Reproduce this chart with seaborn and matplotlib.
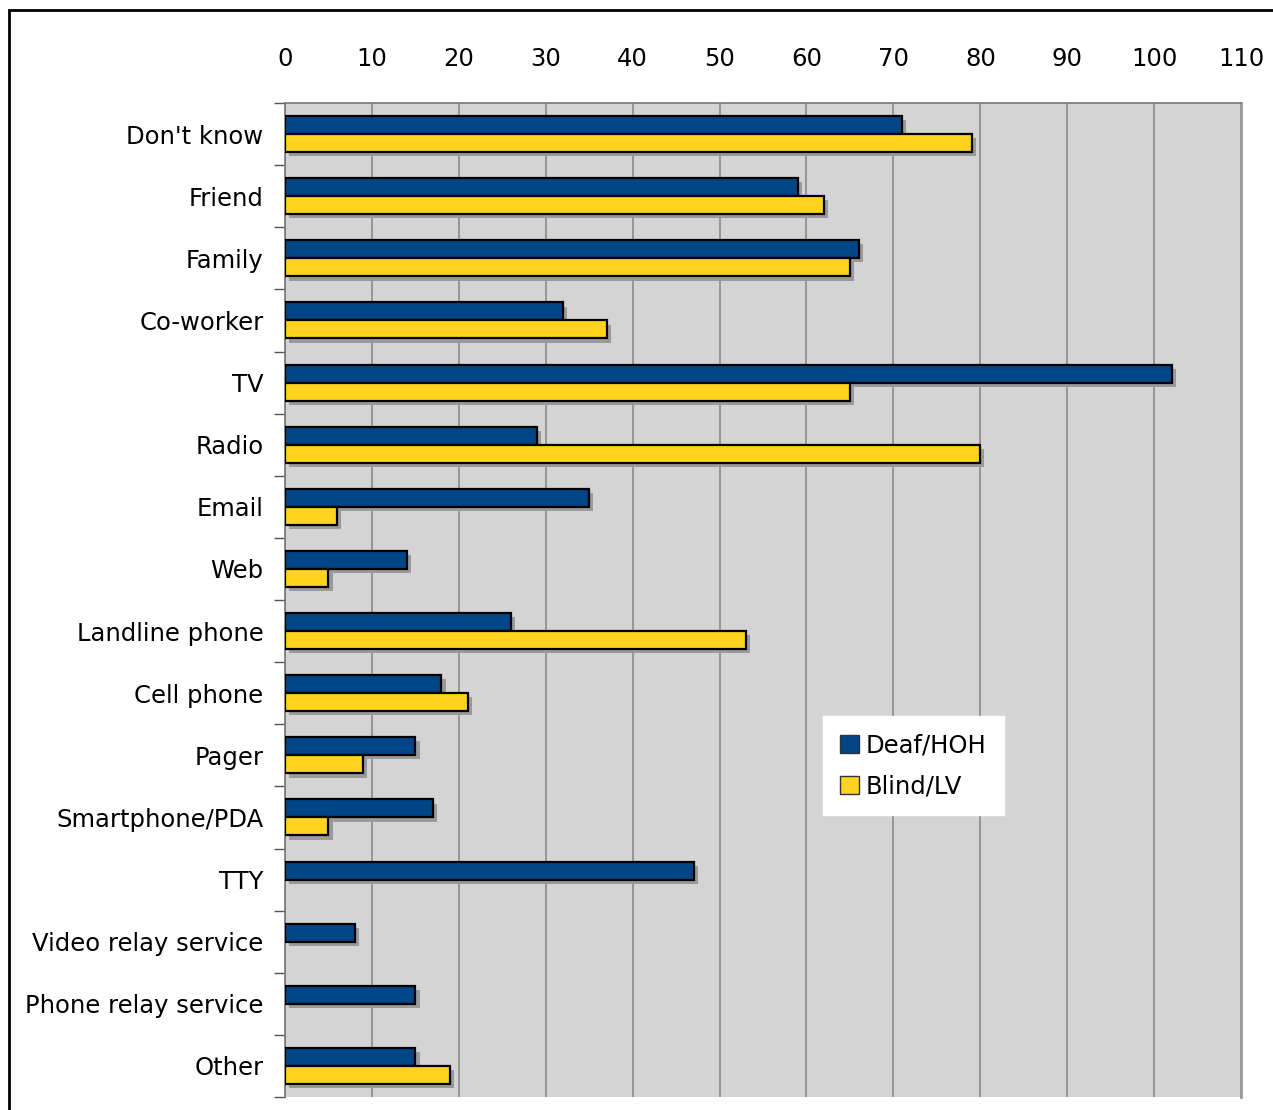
import numpy as np
import pandas as pd
import seaborn as sns
import matplotlib.pyplot as plt
import matplotlib.patheffects as pe
from matplotlib.patches import Rectangle
from matplotlib.ticker import MultipleLocator

# values
sources = ["Don't know", "Friend", "Family", "Co-worker", "TV", "Radio", "Email", "Web",
           "Landline phone", "Cell phone", "Pager", "Smartphone/PDA", "TTY",
           "Video relay service", "Phone relay service", "Other"]
deaf_hoh = [71, 59, 66, 32, 102, 29, 35, 14, 26, 18, 15, 17, 47, 8, 15, 15]
blind_lv = [79, 62, 65, 37, 65, 80, 6, 5, 53, 21, 9, 5, None, None, None, 19]
groups = ["Deaf/HOH", "Blind/LV"]
colors = ["#004586", "#ffd320"]

rows = []
for i, s in enumerate(sources):
    rows.append({"source": s, "group": groups[0], "count": deaf_hoh[i]})
    if blind_lv[i] is not None:
        rows.append({"source": s, "group": groups[1], "count": blind_lv[i]})
df = pd.DataFrame(rows)

sns.set_style("white")
plt.rcParams["font.family"] = ["DejaVu Sans"]
plt.rcParams["text.color"] = "black"
plt.rcParams["xtick.color"] = "black"
plt.rcParams["ytick.color"] = "black"

fig = plt.figure(figsize=(12.73, 11.10), dpi=100)
ax = fig.add_axes([0.2239, 0.0117, 0.7510, 0.8955])
ax.set_facecolor("#d4d4d4")

sns.barplot(data=df, y="source", x="count", hue="group", order=sources,
            hue_order=groups, palette=colors, saturation=1, orient="h", width=0.58,
            edgecolor="black", linewidth=1.6, errorbar=None, ax=ax, zorder=3)

shadow = [pe.SimplePatchShadow(offset=(3, -3), shadow_rgbFace="#9a9a9a", alpha=1.0),
          pe.Normal()]
for p in ax.patches:
    p.set_path_effects(shadow)

ax.set_xlim(0, 110)
ax.set_ylim(len(sources) - 0.5, -0.5)
ax.xaxis.set_major_locator(MultipleLocator(10))
ax.xaxis.tick_top()
ax.xaxis.set_label_position("top")
ax.grid(axis="x", color="#8a8a8a", linewidth=1.2, zorder=0)
ax.set_axisbelow(True)
ax.set_xlabel("")
ax.set_ylabel("")

ax.tick_params(axis="x", top=True, length=0, pad=23, labelsize=17.5, labelcolor="black")
ax.tick_params(axis="y", left=False, pad=12, labelsize=17.5, labelcolor="black")
# separators between categories
ax.set_yticks(np.arange(-0.5, len(sources)), minor=True)
ax.tick_params(axis="y", which="minor", left=True, length=8, color="#555555", width=1)

for side in ["left", "top"]:
    ax.spines[side].set_color("#777777")
    ax.spines[side].set_linewidth(1.2)
ax.spines["right"].set_color("#9a9a9a")
ax.spines["right"].set_linewidth(2)
ax.spines["bottom"].set_visible(False)

leg = ax.legend(loc="upper left", bbox_to_anchor=(0.563, 0.383), borderaxespad=0,
                frameon=True, fancybox=False, framealpha=1, edgecolor="white",
                facecolor="white", fontsize=17.5, handlelength=0.75, handleheight=0.75,
                handletextpad=0.3, labelspacing=0.7, borderpad=0.7, title=None)
for h in leg.legend_handles:
    h.set_edgecolor("#333333")
    h.set_linewidth(1)
    h.set_path_effects([])

# outer frame of the picture
fig.patches.append(Rectangle((9 / 1273, -0.1), 1.2, 1 - 10 / 1110 + 0.1,
                             transform=fig.transFigure, fill=False,
                             edgecolor="black", linewidth=2))

fig.savefig("out.png", dpi=100, facecolor="white")
